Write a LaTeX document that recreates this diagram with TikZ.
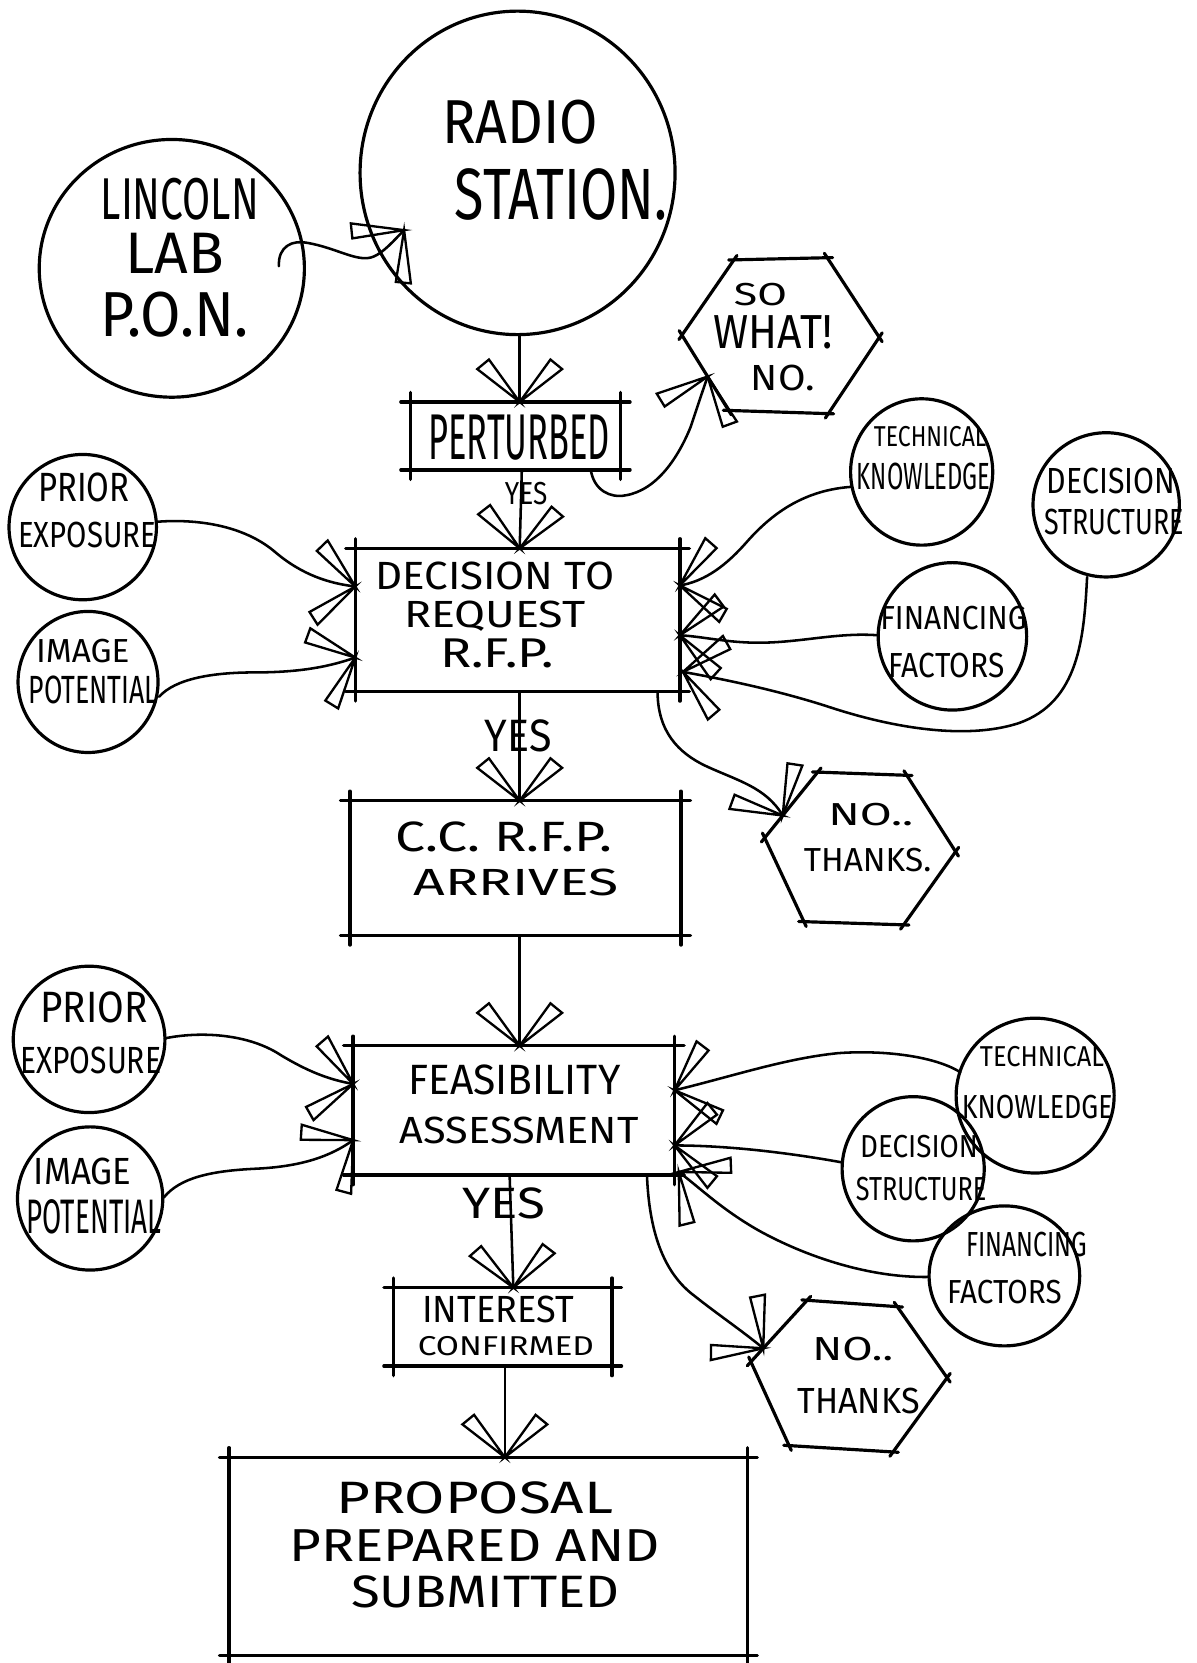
\documentclass[tikz,border=0pt]{standalone}
\usepackage{fontspec}
\setmainfont{Fira Sans}
\usepackage{graphicx}
\usetikzlibrary{shapes.geometric,decorations.markings,calc}

\newcommand{\hl}[4]{\hbox{\hskip#1pt\raisebox{0pt}[#3pt][0pt]{\resizebox{#2pt}{#3pt}{#4}}}}
\newcommand{\gp}[1]{\vskip#1pt}
\newcommand{\handbox}[1]{%
  \draw[boxedge] (#1.north west) -- (#1.north east);
  \draw[boxedge] (#1.north east) -- (#1.south east);
  \draw[boxedge] (#1.south east) -- (#1.south west);
  \draw[boxedge] (#1.south west) -- (#1.north west);}
\newcommand{\hexdraw}[1]{%
  \foreach \va/\vb in {L/TL,TL/TR,TR/R,R/BR,BR/BL,BL/L} {\draw[hexedge] (#1\va) -- (#1\vb);}}

\tikzset{
  pen/.style={line width=2.4pt, line cap=round, line join=round},
  circ/.style={ellipse, draw, line width=3pt, inner sep=0pt, outer sep=0pt},
  boxn/.style={rectangle, draw=none, inner sep=0pt, outer sep=0pt},
  boxedge/.style={line width=3.2pt, line cap=round, shorten <=-9pt, shorten >=-9pt},
  hexedge/.style={line width=3pt, line cap=round, shorten <=-5pt, shorten >=-5pt},
  txt/.style={anchor=north west, inner sep=0pt, outer sep=0pt},
  vhead/.style={postaction={decorate}, decoration={markings,
    mark=at position 1 with {\draw[line width=2.2pt, line join=miter, line cap=round]
      (0,0) -- (-40,29) -- (-31,40) -- cycle
      (0,0) -- (-40,-29) -- (-31,-40) -- cycle;}}},
  flow/.style={pen, vhead},
}

\begin{document}
\begin{tikzpicture}[x=1pt,y=-1pt]
\path[fill=white, use as bounding box] (0,0) rectangle (1128,1568);

% ---- round nodes
\node[circ, minimum width=297pt, minimum height=305pt] (radio) at (488,163) {};
\node[circ, minimum width=250pt, minimum height=243pt] (lincoln) at (162,253) {};
\node[circ, minimum width=139pt, minimum height=137pt] (pe1) at (78,497) {};
\node[circ, minimum width=132pt, minimum height=133pt] (ip1) at (83,643) {};
\node[circ, minimum width=134pt, minimum height=138pt] (tk1) at (869,445) {};
\node[circ, minimum width=138pt, minimum height=136pt] (ds1) at (1043,476) {};
\node[circ, minimum width=140pt, minimum height=139pt] (ff1) at (898,600) {};
\node[circ, minimum width=143pt, minimum height=138pt] (pe2) at (84,980) {};
\node[circ, minimum width=137pt, minimum height=135pt] (ip2) at (85,1130) {};
\node[circ, minimum width=149pt, minimum height=146pt] (tk2) at (976,1033) {};
\node[circ, minimum width=134pt, minimum height=136pt] (ds2) at (861,1102) {};
\node[circ, minimum width=142pt, minimum height=132pt] (ff2) at (947,1203) {};

% ---- boxes
\node[boxn, minimum width=198pt, minimum height=64pt] (pert) at (486,411) {};
\node[boxn, minimum width=306pt, minimum height=135pt] (dec) at (488,584.5) {};
\node[boxn, minimum width=312pt, minimum height=127pt] (cc) at (486,818.5) {};
\node[boxn, minimum width=303pt, minimum height=122pt] (feas) at (484.5,1047) {};
\node[boxn, minimum width=206pt, minimum height=74pt] (inter) at (474,1251) {};
\node[boxn, minimum width=489pt, minimum height=187pt] (prop) at (460.5,1467.5) {};
\handbox{pert}
\handbox{dec}
\handbox{cc}
\handbox{feas}
\handbox{inter}
\handbox{prop}

% ---- hexagons
\coordinate (swL) at (643,316); \coordinate (swTL) at (692,245); \coordinate (swTR) at (780,243);
\coordinate (swR) at (829,318); \coordinate (swBR) at (781,390); \coordinate (swBL) at (687,387);
\coordinate (ntaL) at (721,790); \coordinate (ntaTL) at (771,728); \coordinate (ntaTR) at (855,731);
\coordinate (ntaR) at (901,803); \coordinate (ntaBR) at (852,872); \coordinate (ntaBL) at (758,869);
\coordinate (ntbL) at (708,1284); \coordinate (ntbTL) at (761,1226); \coordinate (ntbTR) at (846,1232);
\coordinate (ntbR) at (893,1299); \coordinate (ntbBR) at (842,1369); \coordinate (ntbBL) at (744,1363);
\hexdraw{sw}
\hexdraw{nta}
\hexdraw{ntb}

% ---- texts
\node[txt] (lincolntxt) at (95,168) {\vbox{\offinterlineskip\hl{0}{149}{39}{LINCOLN}\gp{13}\hl{23}{93}{38}{LAB}\gp{17}\hl{0}{139}{42}{P.O.N.}}};
\node[txt] (radiotxt) at (417,94) {\vbox{\offinterlineskip\hl{0}{147}{41}{RADIO}\gp{24}\hl{12}{200}{48}{STATION.}}};
\node[txt] (perttxt) at (404,391) {\vbox{\offinterlineskip\hl{0}{171}{42}{PERTURBED}}};
\node[txt] (swtxt) at (673,267) {\vbox{\offinterlineskip\hl{19}{50}{21}{SO}\gp{10}\hl{0}{112}{31}{WHAT!}\gp{15}\hl{35}{60}{24}{NO.}}};
\node[txt] (yesa) at (476,455) {\vbox{\offinterlineskip\hl{0}{40}{21}{YES}}};
\node[txt] (yesb) at (457,679) {\vbox{\offinterlineskip\hl{0}{63}{30}{YES}}};
\node[txt] (yesc) at (436,1120) {\vbox{\offinterlineskip\hl{0}{78}{29}{YES}}};
\node[txt] (dectxt) at (354,530) {\vbox{\offinterlineskip\hl{0}{225}{26}{DECISION TO}\gp{11}\hl{27}{171}{25}{REQUEST}\gp{10}\hl{61}{107}{27}{R.F.P.}}};
\node[txt] (cctxt) at (373,775) {\vbox{\offinterlineskip\hl{0}{204}{28}{C.C. R.F.P.}\gp{16}\hl{17}{193}{25}{ARRIVES}}};
\node[txt] (pe1txt) at (17,446) {\vbox{\offinterlineskip\hl{19}{86}{27}{PRIOR}\gp{19}\hl{0}{130}{24}{EXPOSURE}}};
\node[txt] (ip1txt) at (27,603) {\vbox{\offinterlineskip\hl{7}{88}{22}{IMAGE}\gp{12}\hl{0}{122}{26}{POTENTIAL}}};
\node[txt] (tk1txt) at (808,402) {\vbox{\offinterlineskip\hl{16}{106}{19}{TECHNICAL}\gp{16}\hl{0}{126}{25}{KNOWLEDGE}}};
\node[txt] (ds1txt) at (985,441) {\vbox{\offinterlineskip\hl{2}{121}{24}{DECISION}\gp{15}\hl{0}{131}{24}{STRUCTURE}}};
\node[txt] (ff1txt) at (830,572) {\vbox{\offinterlineskip\hl{0}{138}{22}{FINANCING}\gp{22}\hl{8}{109}{23}{FACTORS}}};
\node[txt] (ntatxt) at (758,757) {\vbox{\offinterlineskip\hl{23}{80}{21}{NO..}\gp{22}\hl{0}{120}{22}{THANKS.}}};
\node[txt] (feastxt) at (377,1004) {\vbox{\offinterlineskip\hl{8}{200}{28}{FEASIBILITY}\gp{21}\hl{0}{225}{25}{ASSESSMENT}}};
\node[txt] (pe2txt) at (19,935) {\vbox{\offinterlineskip\hl{19}{101}{29}{PRIOR}\gp{23}\hl{0}{133}{25}{EXPOSURE}}};
\node[txt] (ip2txt) at (25,1092) {\vbox{\offinterlineskip\hl{7}{92}{25}{IMAGE}\gp{14}\hl{0}{127}{32}{POTENTIAL}}};
\node[txt] (tk2txt) at (907,987) {\vbox{\offinterlineskip\hl{17}{117}{19}{TECHNICAL}\gp{27}\hl{0}{142}{22}{KNOWLEDGE}}};
\node[txt] (ds2txt) at (807,1070) {\vbox{\offinterlineskip\hl{4}{111}{21}{DECISION}\gp{19}\hl{0}{123}{22}{STRUCTURE}}};
\node[txt] (ff2txt) at (893,1162) {\vbox{\offinterlineskip\hl{18}{114}{23}{FINANCING}\gp{22}\hl{0}{108}{22}{FACTORS}}};
\node[txt] (ntbtxt) at (752,1261) {\vbox{\offinterlineskip\hl{14}{76}{22}{NO..}\gp{26}\hl{0}{115}{24}{THANKS}}};
\node[txt] (intertxt) at (394,1222) {\vbox{\offinterlineskip\hl{4}{143}{25}{INTEREST}\gp{13}\hl{0}{166}{18}{CONFIRMED}}};
\node[txt] (proptxt) at (273,1397) {\vbox{\offinterlineskip\hl{44}{261}{30}{PROPOSAL}\gp{15}\hl{0}{349}{30}{PREPARED AND}\gp{14}\hl{58}{253}{30}{SUBMITTED}}};

% ---- connectors
\draw[flow] ($(lincoln.east)+(-24,-2)$) .. controls (262,232) and (276,226) .. (290,229)
  .. controls (318,234) and (338,248) .. (352,242) .. controls (362,238) and (372,226) .. ($(radio.west)+(41.5,54)$);
\draw[flow] ($(radio.south)+(2,0)$) -- ($(pert.north)+(4,0)$);
\draw[flow] ($(pert.south east)+(-28,0)$) .. controls (560,462) and (575,470) .. (590,467)
  .. controls (620,462) and (640,430) .. (651,403) .. controls (657,385) and (662,370) .. ($(swL)!0.55!(swBL)$);
\draw[flow] ($(pert.south)+(6,0)$) -- ($(dec.north)+(2,0)$);
\draw[flow] ($(pe1.east)+(0,-5)$) .. controls (185,489) and (230,495) .. (260,521)
  .. controls (285,542) and (310,550) .. ($(dec.west)+(0,-31.5)$);
\draw[flow] ($(ip1.east)+(1,14)$) .. controls (165,640) and (200,634) .. (240,634)
  .. controls (285,634) and (312,628) .. ($(dec.west)+(0,35.5)$);
\draw[flow] ($(tk1.west)+(1,14)$) .. controls (760,462) and (730,482) .. (705,510)
  .. controls (685,533) and (665,548) .. ($(dec.east)+(0,-32.5)$);
\draw[flow] ($(ff1.west)+(0,-1)$) .. controls (790,596) and (755,606) .. (715,606)
  .. controls (685,606) and (662,600) .. ($(dec.east)+(0,14.5)$);
\draw[flow] ($(ds1.south)+(-18,0)$) .. controls (1022,600) and (1018,662) .. (960,682)
  .. controls (910,698) and (840,686) .. (780,666) .. controls (730,650) and (680,640) .. ($(dec.east)+(3,49)$);
\draw[flow] ($(dec.south east)+(-21,0)$) .. controls (620,690) and (640,710) .. (665,722)
  .. controls (695,736) and (722,742) .. ($(ntaL)!0.34!(ntaTL)$);
\draw[flow] ($(dec.south)+(2,0)$) -- ($(cc.north)+(4,0)$);
\draw[flow] ($(cc.south)+(4,0)$) -- ($(feas.north)+(5.5,0)$);
\draw[flow] ($(pe2.east)+(0,-1)$) .. controls (190,972) and (235,975) .. (265,995)
  .. controls (290,1010) and (310,1018) .. ($(feas.west)+(0,-25)$);
\draw[flow] ($(ip2.east)+(1,-1)$) .. controls (170,1110) and (200,1104) .. (240,1102)
  .. controls (285,1100) and (312,1090) .. ($(feas.west)+(0,28)$);
\draw[flow] ($(tk2.west)+(4,-22)$) .. controls (880,995) and (830,990) .. (790,993)
  .. controls (740,998) and (690,1015) .. ($(feas.east)+(0,-19)$);
\draw[flow] ($(ds2.west)+(0,-6)$) .. controls (750,1088) and (690,1080) .. ($(feas.east)+(0,33)$);
\draw[flow] ($(ff2.west)+(0,1)$) .. controls (820,1205) and (760,1185) .. (715,1160)
  .. controls (680,1140) and (660,1120) .. ($(feas.east)+(4,58)$);
\draw[flow] ($(feas.south east)+(-26,0)$) .. controls (612,1160) and (625,1200) .. (655,1222)
  .. controls (675,1238) and (700,1255) .. ($(ntbL)!0.22!(ntbTL)$);
\draw[flow] ($(feas.south)+(-4,0)$) -- ($(inter.north)+(10,0)$);
\draw[flow] ($(inter.south)+(2,0)$) -- ($(prop.north)+(15.5,0)$);
\end{tikzpicture}
\end{document}
